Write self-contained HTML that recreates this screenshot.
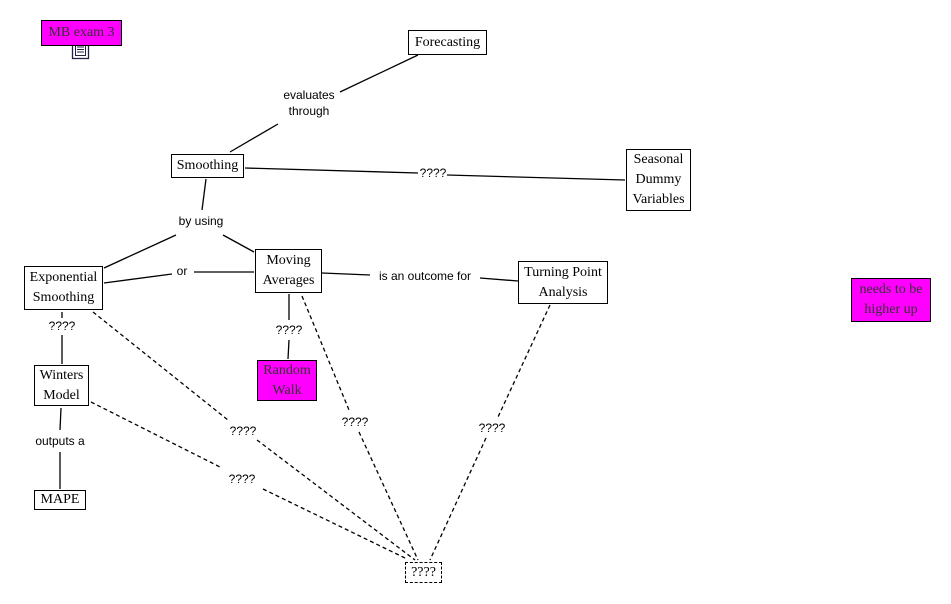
<!DOCTYPE html>
<html><head><meta charset="utf-8"><style>
body{margin:0;background:#fff;width:951px;height:604px;overflow:hidden;position:relative}
.n{position:absolute;border:1px solid #000;background:#fff;font:14px/20px "Liberation Serif",serif;text-align:center;box-sizing:border-box;display:flex;align-items:center;justify-content:center;color:#000}
.m{background:#ff00ff;color:#333}
.l{position:absolute;font:12px/16px "Liberation Sans",sans-serif;text-align:center;transform:translate(-50%,-50%);white-space:nowrap;background:#fff}
</style></head><body>
<svg width="951" height="604" style="position:absolute;left:0;top:0" stroke="#000" stroke-width="1.3" fill="none">
<line x1="418" y1="55" x2="340" y2="92"/><line x1="278" y1="124" x2="230" y2="152"/>
<line x1="245" y1="168" x2="418" y2="173"/><line x1="447" y1="175" x2="625" y2="180"/>
<line x1="206" y1="179" x2="202" y2="210"/>
<line x1="176" y1="235" x2="104" y2="268"/><line x1="223" y1="235" x2="254" y2="252"/>
<line x1="104" y1="283" x2="172" y2="274"/><line x1="194" y1="272" x2="254" y2="272"/>
<line x1="322" y1="273" x2="370" y2="275"/><line x1="480" y1="278" x2="518" y2="281"/>
<line x1="62" y1="312" x2="62" y2="318"/><line x1="62" y1="335" x2="62" y2="364"/>
<line x1="289" y1="294" x2="289" y2="320"/><line x1="289" y1="340" x2="288" y2="359"/>
<line x1="61" y1="408" x2="60" y2="430"/><line x1="60" y1="452" x2="60" y2="489"/>
<g stroke-dasharray="4,3">
<line x1="93" y1="312" x2="228" y2="420"/><line x1="257" y1="440" x2="415" y2="560"/>
<line x1="91" y1="402" x2="222" y2="468"/><line x1="263" y1="489" x2="405" y2="558"/>
<line x1="302" y1="296" x2="349" y2="410"/><line x1="359" y1="432" x2="418" y2="560"/>
<line x1="550" y1="305" x2="498" y2="417"/><line x1="486" y1="438" x2="430" y2="560"/>
</g>
<rect x="72.5" y="41.5" width="16" height="17" stroke="#224" fill="#fff"/>
<rect x="75.5" y="44.5" width="10" height="11" stroke="#224" stroke-width="1"/>
<path d="M77 47h7M77 49.5h7M77 52h7" stroke="#224" stroke-width="1"/>
</svg>
<div class="n m" style="left:41px;top:20px;width:81px;height:26px">MB exam 3</div>
<div class="n" style="left:408px;top:30px;width:79px;height:25px">Forecasting</div>
<div class="n" style="left:171px;top:154px;width:73px;height:24px">Smoothing</div>
<div class="n" style="left:626px;top:149px;width:65px;height:62px">Seasonal<br>Dummy<br>Variables</div>
<div class="n" style="left:24px;top:266px;width:79px;height:44px">Exponential<br>Smoothing</div>
<div class="n" style="left:255px;top:249px;width:67px;height:44px">Moving<br>Averages</div>
<div class="n" style="left:518px;top:261px;width:90px;height:43px">Turning Point<br>Analysis</div>
<div class="n m" style="left:851px;top:278px;width:80px;height:44px">needs to be<br>higher up</div>
<div class="n" style="left:34px;top:365px;width:55px;height:41px">Winters<br>Model</div>
<div class="n m" style="left:257px;top:360px;width:60px;height:41px">Random<br>Walk</div>
<div class="n" style="left:34px;top:490px;width:52px;height:20px">MAPE</div>
<div class="n" style="left:405px;top:562px;width:37px;height:21px;border:1px dashed #000">????</div>
<div class="l" style="left:309px;top:103px">evaluates<br>through</div>
<div class="l" style="left:433px;top:173px">????</div>
<div class="l" style="left:201px;top:221px">by using</div>
<div class="l" style="left:182px;top:271px">or</div>
<div class="l" style="left:425px;top:276px">is an outcome for</div>
<div class="l" style="left:62px;top:326px">????</div>
<div class="l" style="left:289px;top:330px">????</div>
<div class="l" style="left:60px;top:441px">outputs a</div>
<div class="l" style="left:243px;top:431px">????</div>
<div class="l" style="left:242px;top:479px">????</div>
<div class="l" style="left:355px;top:422px">????</div>
<div class="l" style="left:492px;top:428px">????</div>
</body></html>
